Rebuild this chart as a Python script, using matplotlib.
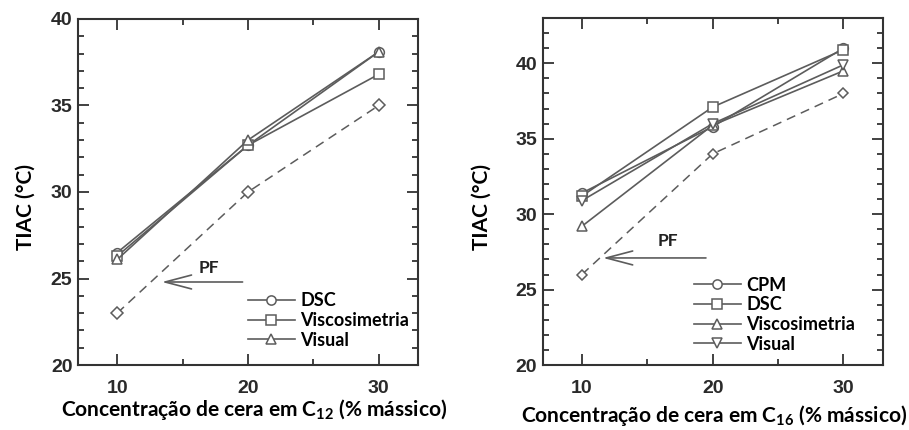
import matplotlib
matplotlib.use("Agg")
import matplotlib.pyplot as plt
from matplotlib.ticker import MultipleLocator

plt.rcParams['font.family'] = ['Lato', 'DejaVu Sans']
plt.rcParams['mathtext.fontset'] = 'custom'
plt.rcParams['mathtext.rm'] = 'Lato:bold'
plt.rcParams['mathtext.it'] = 'Lato:bold'
plt.rcParams['mathtext.bf'] = 'Lato:bold'

# dados
conc = [10, 20, 30]
yticks = [20, 25, 30, 35, 40]

# C12
c12_dsc = [26.5, 32.7, 38.1]
c12_visco = [26.3, 32.7, 36.8]
c12_visual = [26.1, 33.0, 38.1]
c12_pf = [23.0, 30.0, 35.0]

# C16
c16_cpm = [31.4, 35.8, 41.0]
c16_dsc = [31.2, 37.1, 40.9]
c16_visco = [29.2, 35.9, 39.5]
c16_visual = [30.9, 36.0, 39.9]
c16_pf = [26.0, 34.0, 38.0]

line_c = '#5c5c5c'
axis_c = '#333333'
tick_font = dict(fontfamily='Liberation Sans', fontweight='bold', fontsize=14,
                 color='#2a2a2a')


def style_axes(ax, ymax):
    ax.set_xlim(7, 33)
    ax.set_ylim(20, ymax)
    ax.set_xticks(conc, labels=[str(c) for c in conc], **tick_font)
    ax.set_yticks(yticks, labels=[str(t) for t in yticks], **tick_font)
    ax.xaxis.set_minor_locator(MultipleLocator(5))
    ax.yaxis.set_minor_locator(MultipleLocator(1))
    ax.tick_params(which='both', direction='in', top=True, right=True,
                   color=axis_c, width=1.3)
    ax.tick_params(which='major', length=8)
    ax.tick_params(axis='x', which='major', pad=11)
    ax.tick_params(axis='y', which='major', pad=4)
    ax.tick_params(which='minor', length=4)
    for s in ax.spines.values():
        s.set_color(axis_c)
        s.set_linewidth(1.5)


def serie(ax, y, marker, label):
    ax.plot(conc, y, color=line_c, lw=1.2, marker=marker, ms=7,
            mfc='white', mec=line_c, mew=1.1, label=label)


def pf_arrow(ax, x0, x1, y, tx, ty):
    ax.annotate('', xy=(x1, y), xytext=(x0, y),
                arrowprops=dict(arrowstyle='->,head_length=1.9,head_width=0.5',
                                color=line_c, lw=1.2))
    ax.text(tx, ty, 'PF', fontsize=12.5, fontweight='bold', ha='center',
            va='center', color='#222222')


legend_kw = dict(loc='upper left', frameon=False, handlelength=2.6,
                 handletextpad=0.3, labelspacing=0.15, markerscale=0.95,
                 borderaxespad=0, borderpad=0,
                 prop=dict(family='Lato', weight='bold', size=13))

fig = plt.figure(figsize=(9.09, 4.30), dpi=100)
ax1 = fig.add_axes([0.0858, 0.151, 0.374, 0.805])
ax2 = fig.add_axes([0.597, 0.151, 0.374, 0.807])

# painel C12
serie(ax1, c12_dsc, 'o', 'DSC')
serie(ax1, c12_visco, 's', 'Viscosimetria')
serie(ax1, c12_visual, '^', 'Visual')
ax1.plot(conc, c12_pf, color=line_c, lw=1.1, ls=(0, (6, 4)), marker='D', ms=6,
         mfc='white', mec=line_c, mew=1.1)
pf_arrow(ax1, 19.8, 13.2, 24.8, 17.0, 25.6)
style_axes(ax1, 40)
ax1.legend(bbox_to_anchor=(0.5, 0.21), **legend_kw)
ax1.set_xlabel('Concentração de cera em C$_{12}$ (% mássico)', fontsize=15,
               fontweight='bold')
ax1.xaxis.set_label_coords(0.518, -0.092)
ax1.set_ylabel('TIAC (°C)', fontsize=15, fontweight='bold')
ax1.yaxis.set_label_coords(-0.125, 0.457)

# painel C16
serie(ax2, c16_cpm, 'o', 'CPM')
serie(ax2, c16_dsc, 's', 'DSC')
serie(ax2, c16_visco, '^', 'Viscosimetria')
serie(ax2, c16_visual, 'v', 'Visual')
ax2.plot(conc, c16_pf, color=line_c, lw=1.1, ls=(0, (6, 4)), marker='D', ms=5,
         mfc='white', mec=line_c, mew=1.1)
pf_arrow(ax2, 19.7, 11.4, 27.1, 16.6, 28.2)
style_axes(ax2, 43)
ax2.legend(bbox_to_anchor=(0.445, 0.255), **legend_kw)
ax2.set_xlabel('Concentração de cera em C$_{16}$ (% mássico)', fontsize=15,
               fontweight='bold')
ax2.xaxis.set_label_coords(0.505, -0.11)
ax2.set_ylabel('TIAC (°C)', fontsize=15, fontweight='bold')
ax2.yaxis.set_label_coords(-0.15, 0.455)

fig.savefig('out.png', dpi=100)
